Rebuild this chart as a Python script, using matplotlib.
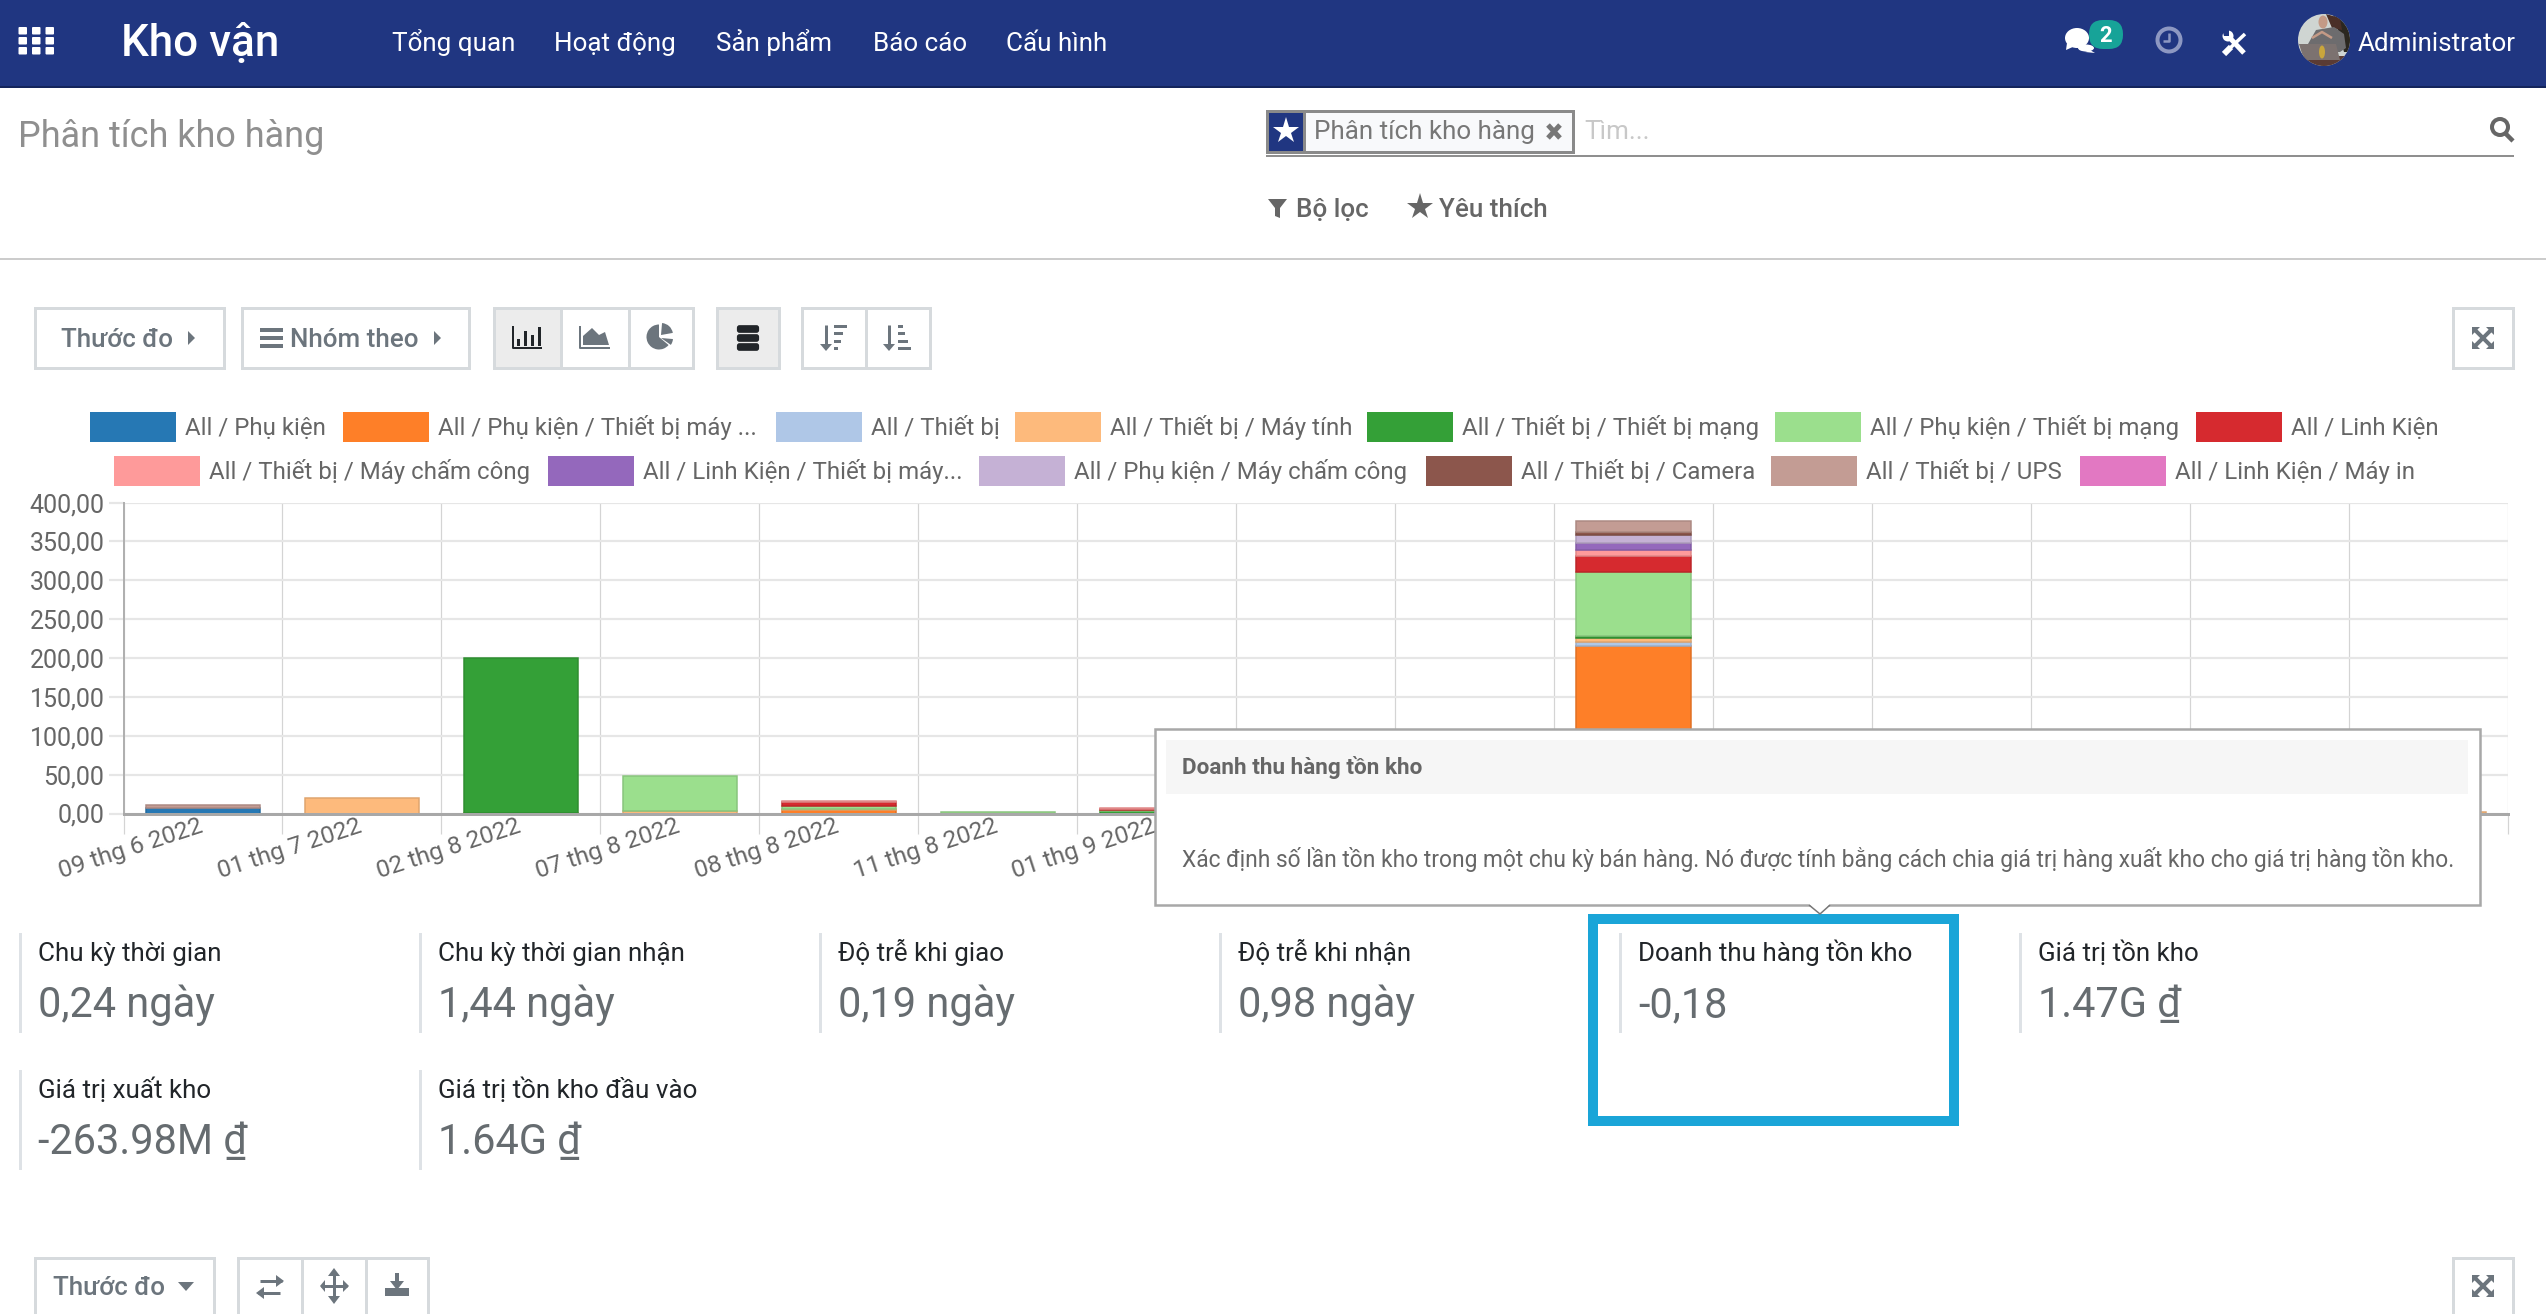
import matplotlib
matplotlib.use('Agg')
import matplotlib.pyplot as plt
import numpy as np
from matplotlib.patches import Rectangle, Circle, Ellipse, Polygon, Wedge, FancyBboxPatch
from matplotlib.colors import to_rgb

plt.rcParams['font.family'] = ['Roboto', 'DejaVu Sans']

W, H = 2546, 1314
NAVY = '#203681'
GREY = '#6c757d'
BORDER = '#d6dadd'

# chart data, one value per date column
categories = ['09 thg 6 2022', '01 thg 7 2022', '02 thg 8 2022', '07 thg 8 2022',
              '08 thg 8 2022', '11 thg 8 2022', '01 thg 9 2022', '', '', '', '', '', '', '', '']
phu_kien = [7.7, 0, 0, 0, 0, 0, 0, 0, 0, 0, 0, 0, 0, 0, 0]
pk_may_tinh = [0, 0, 1.0, 0, 4.7, 0, 0, 0, 0, 216.0, 0, 0, 0, 0, 0]
thiet_bi = [0, 0, 0, 0, 0, 0, 0, 0, 0, 5.2, 0, 0, 0, 0, 0]
tb_may_tinh = [0, 20.0, 0, 2.6, 1.3, 0, 0, 0, 0, 4.7, 0, 0, 0, 0, 2.5]
tb_mang = [0, 0, 199.0, 0, 0, 0, 2.6, 0, 0, 2.1, 0, 0, 0, 0, 0]
pk_mang = [0, 0, 0, 45.4, 3.9, 2.2, 2.0, 0, 0, 82.9, 0, 0, 0, 0, 0]
linh_kien = [0, 0, 0, 0, 5.1, 0, 1.7, 0, 0, 20.5, 0, 0, 0, 0, 0]
tb_cham_cong = [0, 0, 0, 0, 1.3, 0, 0.9, 0, 0, 8.1, 0, 0, 0, 0, 0]
lk_may_tinh = [0, 0, 0, 0, 0, 0, 0, 0, 0, 9.0, 0, 0, 0, 0, 0]
pk_cham_cong = [0, 0, 0, 0, 0, 0, 0, 0, 0, 9.8, 0, 0, 0, 0, 0]
tb_camera = [0, 0, 0, 0, 0, 0, 0, 0, 0, 4.3, 0, 0, 0, 0, 0]
tb_ups = [3.5, 0, 0, 0, 0, 0, 0, 0, 0, 13.7, 0, 0, 0, 0, 0]
lk_may_in = [0, 0, 0, 0, 0, 0, 0, 0, 0, 0, 0, 0, 0, 0, 0]

series_values = [phu_kien, pk_may_tinh, thiet_bi, tb_may_tinh, tb_mang, pk_mang, linh_kien,
                 tb_cham_cong, lk_may_tinh, pk_cham_cong, tb_camera, tb_ups, lk_may_in]
series_names = ['All / Phụ kiện', 'All / Phụ kiện / Thiết bị máy ...', 'All / Thiết bị',
                'All / Thiết bị / Máy tính', 'All / Thiết bị / Thiết bị mạng',
                'All / Phụ kiện / Thiết bị mạng', 'All / Linh Kiện',
                'All / Thiết bị / Máy chấm công', 'All / Linh Kiện / Thiết bị máy...',
                'All / Phụ kiện / Máy chấm công', 'All / Thiết bị / Camera',
                'All / Thiết bị / UPS', 'All / Linh Kiện / Máy in']
series_colors = ['#2678b4', '#fe7f28', '#afc7e7', '#fdba7c', '#34a037', '#9bdf8d', '#d62a2f',
                 '#fe9a9a', '#9468bc', '#c5b1d5', '#8c564c', '#c39c94', '#e278c2']
y_ticks = [0, 50, 100, 150, 200, 250, 300, 350, 400]

# legend swatch left edges and tops in pixels
legend_x = [90, 343, 776, 1015, 1367, 1775, 2196, 114, 548, 979, 1426, 1771, 2080]
legend_y = [412, 412, 412, 412, 412, 412, 412, 456, 456, 456, 456, 456, 456]

menu_items = ['Tổng quan', 'Hoạt động', 'Sản phẩm', 'Báo cáo', 'Cấu hình']
menu_x = [392, 554, 716, 873, 1006]

kpi_labels = ['Chu kỳ thời gian', 'Chu kỳ thời gian nhận', 'Độ trễ khi giao', 'Độ trễ khi nhận',
              'Doanh thu hàng tồn kho', 'Giá trị tồn kho', 'Giá trị xuất kho',
              'Giá trị tồn kho đầu vào']
kpi_values = ['0,24 ngày', '1,44 ngày', '0,19 ngày', '0,98 ngày', '-0,18', '1.47G ₫',
              '-263.98M ₫', '1.64G ₫']


def pt(px):
    return px * 72 / 100


fig = plt.figure(figsize=(W / 100, H / 100), dpi=100, facecolor='white')

# chart
left, right, top, bottom = 123.5, 2508, 502.5, 813.5
ax = fig.add_axes([left / W, 1 - bottom / H, (right - left) / W, (bottom - top) / H], zorder=1)
x = np.arange(len(categories))
base = np.zeros(len(categories))
for vals, col in zip(series_values, series_colors):
    vals = np.array(vals)
    edge = tuple(c * 0.88 for c in to_rgb(col))
    keep = vals > 0
    if keep.any():
        ax.bar(x[keep], vals[keep], 0.72, bottom=base[keep], color=col, edgecolor=edge,
               linewidth=pt(1.5), zorder=3)
    base += vals

ax.set_xlim(-0.5, len(categories) - 0.5)
ax.set_ylim(0, 400)
ax.set_yticks(y_ticks)
ax.set_yticklabels([f'{v:.2f}'.replace('.', ',') for v in y_ticks])
ax.set_xticks(np.arange(len(categories) + 1) - 0.5)
ax.set_xticklabels([])
# labels sit a little left of the column centre, as in the original
ax.set_xticks(x - 0.03, minor=True)
ax.set_xticklabels(categories, minor=True, rotation=18, ha='right', va='top',
                   rotation_mode='anchor', fontsize=pt(24.5), color='#666666')
ax.tick_params(axis='x', which='major', length=pt(20), width=pt(1.2), color='#d4d4d4')
ax.tick_params(axis='x', which='minor', length=0, pad=pt(1))
ax.tick_params(axis='y', length=pt(15), width=pt(2.2), color='#e6e6e6', pad=pt(4),
               labelsize=pt(25), labelcolor='#666666')
ax.grid(axis='y', color='#e6e6e6', linewidth=pt(2.2), zorder=0)
ax.grid(axis='x', which='major', color='#d4d4d4', linewidth=pt(1.2), zorder=1)
ax.set_axisbelow(True)
for side in ['top', 'right']:
    ax.spines[side].set_visible(False)
ax.spines['left'].set_color('#b0b0b0')
ax.spines['left'].set_linewidth(pt(2))
ax.spines['bottom'].set_color('#a8a8a8')
ax.spines['bottom'].set_linewidth(pt(3))
ax.spines['bottom'].set_zorder(5)

# page overlay in pixel coordinates
page = fig.add_axes([0, 0, 1, 1], zorder=2)
page.set_xlim(0, W)
page.set_ylim(H, 0)
page.axis('off')
page.patch.set_alpha(0)


def txt(x, y, s, px, color='#666666', weight='normal', ha='left', zorder=5):
    page.text(x, y, s, fontsize=pt(px), color=color, fontweight=weight, ha=ha, va='baseline',
              zorder=zorder)


def rect(x0, y0, x1, y1, fc='white', ec='none', lw=0, zorder=2):
    p = Rectangle((x0, y0), x1 - x0, y1 - y0, facecolor=fc, edgecolor=ec, linewidth=pt(lw),
                  zorder=zorder)
    page.add_patch(p)
    return p


def line(xs, ys, color=GREY, lw=2, zorder=4, cap='butt'):
    page.plot(xs, ys, color=color, linewidth=pt(lw), zorder=zorder, solid_capstyle=cap)


def poly(pts, color=GREY, zorder=4):
    page.add_patch(Polygon(pts, closed=True, facecolor=color, edgecolor='none', zorder=zorder))


def button(x0, x1, y0=308, y1=368, fill='white'):
    rect(x0, y0, x1, y1, fc=fill, ec=BORDER, lw=3)


def caret_right(x, y):
    poly([(x - 3, y - 7), (x + 4, y), (x - 3, y + 7)])


def expand_icon(cx, cy, s=11):
    line([cx - s + 2, cx + s - 2], [cy - s + 2, cy + s - 2], lw=4)
    line([cx - s + 2, cx + s - 2], [cy + s - 2, cy - s + 2], lw=4)
    for sx, sy in [(-1, -1), (1, -1), (-1, 1), (1, 1)]:
        poly([(cx + sx * s, cy + sy * s), (cx + sx * 3, cy + sy * s), (cx + sx * s, cy + sy * 3)])


# navbar
rect(0, 0, W, 86, fc=NAVY)
rect(0, 86, W, 88, fc='#14255c')
for i in range(3):
    for j in range(3):
        page.add_patch(FancyBboxPatch((19.5 + i * 13.5, 28 + j * 10), 6.5, 5.5,
                                      boxstyle='round,pad=1', fc='white', ec='none', zorder=4))
txt(121, 56, 'Kho vận', 44, color='white', weight='medium')
for name, mx in zip(menu_items, menu_x):
    txt(mx, 51, name, 26, color='white')

# chat, clock, tools, avatar
page.add_patch(Ellipse((2077, 38), 24, 20, fc='white', ec='none', zorder=4))
poly([(2067, 43), (2066, 50), (2075, 46)], color='white')
page.add_patch(Ellipse((2086, 48), 16, 7, fc='white', ec='none', zorder=4))
poly([(2090, 50), (2095, 53), (2085, 52)], color='white')
page.add_patch(FancyBboxPatch((2103, 34), 6, 1, boxstyle='round,pad=14', fc='#17a398', ec='none',
                              zorder=5))
txt(2106, 42, '2', 22, color='white', weight='bold', ha='center', zorder=6)
page.add_patch(Circle((2169, 40), 11.5, fc='none', ec='#8d98c2', lw=pt(4), zorder=4))
line([2169, 2169, 2163], [33, 41, 41], color='#8d98c2', lw=2.5)
# screwdriver and wrench
line([2245, 2228], [34, 50], color='white', lw=3.5)
line([2231, 2224], [47, 54], color='white', lw=6)
line([2229, 2244], [37, 53], color='white', lw=5)
page.add_patch(Circle((2228, 36), 5.5, fc='white', ec='none', zorder=4))
poly([(2222, 29), (2229, 30), (2229, 36), (2224, 36)], color=NAVY, zorder=5)

avatar = Circle((2324, 40), 26, fc='#cfd5d2', ec='none', zorder=4)
page.add_patch(avatar)
for pts, col in [([(2332, 10), (2355, 10), (2355, 52), (2344, 52)], '#2b2720'),
                 ([(2326, 14), (2340, 18), (2342, 30), (2332, 28)], '#4a2f27'),
                 ([(2308, 44), (2316, 30), (2334, 27), (2344, 34), (2346, 48), (2340, 52), (2312, 52)],
                  '#6d6c6e'),
                 ([(2298, 56), (2352, 56), (2352, 70), (2298, 70)], '#5a3b34'),
                 ([(2299, 44), (2336, 44), (2340, 60), (2304, 60)], '#7c7270')]:
    p = Polygon(pts, closed=True, fc=col, ec='none', zorder=5)
    page.add_patch(p)
    p.set_clip_path(avatar)
page.add_patch(Ellipse((2323, 22), 9, 13, fc='#c49a86', ec='none', zorder=6))
line([2312, 2322, 2332], [38, 32, 38], color='#c49a86', lw=2.5, zorder=6)
page.add_patch(Ellipse((2322, 52), 6, 13, fc='#c9a63c', ec='none', zorder=6))
txt(2358, 51, 'Administrator', 26, color='white')

# control panel
txt(18, 147, 'Phân tích kho hàng', 36, color='#8f8f8f')
rect(0, 258, W, 260, fc='#cccccc')

rect(1266, 155, 2514, 157, fc='#8f8f8f')
rect(1267, 111, 1573, 152, fc='#f8f9fb', ec='#8a8a8a', lw=3)
rect(1267, 111, 1304, 152, fc=NAVY, ec='#8a8a8a', lw=3, zorder=3)
page.plot([1286], [131], marker='*', ms=pt(28), color='white', mew=0, zorder=5)
txt(1314, 139, 'Phân tích kho hàng', 26, color='#777777')
line([1548, 1560], [125, 138], color='#777777', lw=5)
line([1560, 1548], [125, 138], color='#777777', lw=5)
txt(1584, 139, 'Tìm...', 26, color='#c8c8c8')
page.add_patch(Circle((2500, 127), 8, fc='none', ec='#666666', lw=pt(4), zorder=4))
line([2505, 2513], [133, 141], color='#666666', lw=4.5)

poly([(1268, 199), (1287, 199), (1280, 208), (1280, 218), (1275, 216), (1275, 208)], color='#666666')
txt(1296, 217, 'Bộ lọc', 26, color='#666666', weight='medium')
page.plot([1420], [207], marker='*', ms=pt(28), color='#666666', mew=0, zorder=5)
txt(1439, 217, 'Yêu thích', 26, color='#666666', weight='medium')

# toolbar buttons
button(35, 224)
txt(61, 347, 'Thước đo', 26, color=GREY, weight='medium')
caret_right(191, 338)
button(242, 469)
for yy in [330, 338, 346]:
    rect(260, yy - 2, 283, yy + 2, fc=GREY, zorder=4)
txt(290, 347, 'Nhóm theo', 26, color=GREY, weight='medium')
caret_right(437, 338)

button(494, 561, fill='#ececec')
button(561, 629)
button(629, 693)
button(717, 779, fill='#ececec')
button(802, 866)
button(866, 930)
button(2453, 2513)
expand_icon(2483, 338)

# bar icon
line([513, 513, 542], [326, 348, 348], color='#212529', lw=2)
for bx, bh in zip([518, 525, 532, 539], [7, 15, 11, 19]):
    rect(bx - 1.5, 346 - bh, bx + 2, 346, fc='#212529', zorder=4)
# area icon
line([580, 580, 610], [326, 348, 348], color=GREY, lw=2)
poly([(583, 345), (583, 336), (592, 328), (599, 335), (605, 332), (609, 345)])
# pie icon
page.add_patch(Wedge((659, 337), 12.5, 40, 270, fc=GREY, ec='none', zorder=4))
page.add_patch(Wedge((661, 335), 12, -85, -10, fc=GREY, ec='none', zorder=4))
page.add_patch(Wedge((661, 338), 12, 5, 35, fc=GREY, ec='none', zorder=4))
# stack icon
for yy in [329, 338, 347]:
    page.add_patch(FancyBboxPatch((739.5, yy - 1.25), 17, 2.5, boxstyle='round,pad=2.6',
                                  fc='#212529', ec='none', zorder=4))
# sort icons
for ax0, bx, widths in [(826, 834, [13, 9, 7, 4]), (889, 898, [5, 7, 10, 13])]:
    line([ax0, ax0], [325, 346], lw=3)
    poly([(ax0 - 6, 344), (ax0 + 6, 344), (ax0, 351)])
    for yy, wd in zip([326, 333.5, 341, 348], widths):
        rect(bx, yy - 1.5, bx + wd, yy + 1.5, fc=GREY, zorder=4)

# legend
for name, col, lx, ly in zip(series_names, series_colors, legend_x, legend_y):
    rect(lx, ly, lx + 86, ly + 30, fc=col, zorder=3)
    txt(lx + 95, ly + 23, name, 24, color='#666666')

# kpi cells
kpi_x = [20, 420, 820, 1220, 1620, 2020, 20, 420]
kpi_y = [933, 933, 933, 933, 933, 933, 1070, 1070]
for lab, val, kx, ky in zip(kpi_labels, kpi_values, kpi_x, kpi_y):
    rect(kx - 1.5, ky, kx + 1.5, ky + 100, fc='#dee2e6')
    txt(kx + 18, ky + 28, lab, 26, color='#212529')
    txt(kx + 18, ky + 84, val, 41.5, color='#666c70')

rect(1593, 919, 1954, 1121, fc='none', ec='#1aa5d8', lw=10, zorder=7)

# tooltip
rect(1154.5, 729, 2480, 905, fc='white', ec='#a8a8a8', lw=2.5, zorder=8)
rect(1166, 740, 2468, 794, fc='#f6f6f6', zorder=9)
poly([(1809, 904), (1830, 904), (1820, 914)], color='white', zorder=9)
line([1809, 1820, 1830], [905, 914, 905], color='#777777', lw=1.5, zorder=9)
txt(1182, 774, 'Doanh thu hàng tồn kho', 22.5, color='#666666', weight='bold', zorder=10)
txt(1182, 867, 'Xác định số lần tồn kho trong một chu kỳ bán hàng. Nó được tính bằng cách chia '
    'giá trị hàng xuất kho cho giá trị hàng tồn kho.', 22.7, color='#666666', zorder=10)

# bottom toolbar
button(35, 214, 1258, 1330)
txt(53, 1295, 'Thước đo', 26, color=GREY, weight='medium')
poly([(178, 1282), (194, 1282), (186, 1291)])
button(238, 302, 1258, 1330)
button(302, 366, 1258, 1330)
button(366, 428, 1258, 1330)
# swap icon
line([260, 282], [1281, 1281], lw=3)
poly([(276, 1275), (284, 1281), (276, 1287)])
line([258, 280], [1293, 1293], lw=3)
poly([(264, 1287), (256, 1293), (264, 1299)])
# move icon
line([334, 334], [1273, 1299], lw=3)
line([321, 347], [1286, 1286], lw=3)
poly([(328, 1276), (340, 1276), (334, 1268)])
poly([(328, 1296), (340, 1296), (334, 1304)])
poly([(325, 1280), (325, 1292), (320, 1286)])
poly([(343, 1280), (343, 1292), (349, 1286)])
# download icon
rect(385, 1288, 409, 1296, fc=GREY)
line([397, 397], [1273, 1283], lw=4)
poly([(390, 1281), (404, 1281), (397, 1290)])
button(2453, 2513, 1258, 1330)
expand_icon(2483, 1286)

fig.savefig('out.png', dpi=100)
